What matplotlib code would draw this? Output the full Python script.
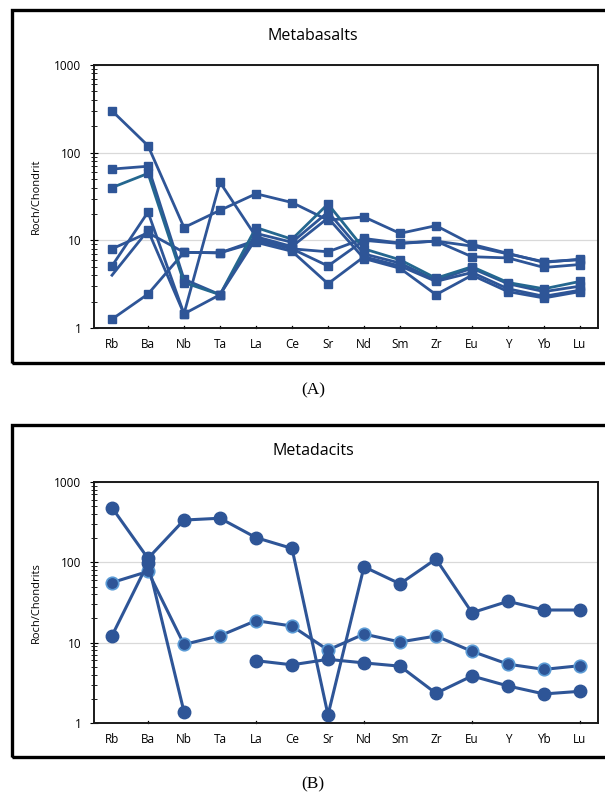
import numpy as np
import matplotlib
matplotlib.use("Agg")
import matplotlib.pyplot as plt
from matplotlib.patches import Rectangle
from matplotlib.ticker import LogLocator, NullFormatter, FixedLocator

# ─── DATA ─────────────────────────────────────────────────────────────────────
ELEMENTS = ["Rb", "Ba", "Nb", "Ta", "La", "Ce", "Sr", "Nd", "Sm", "Zr", "Eu", "Y", "Yb", "Lu"]

# Metabasalts (A)
basalt_1 = [300, 120, 14, 22, 34, 27, 17, 18.5, 12, 14.7, 9.0, 7.1, 5.6, 6.1]
basalt_2 = [65, 70, 3.6, 2.4, 12, 9.5, 21, 7.0, 5.5, 3.5, 4.8, 3.2, 2.6, 3.0]
basalt_3 = [40, 58, 3.3, 2.4, 14, 10.3, 26, 8.0, 6.0, 3.7, 5.0, 3.3, 2.8, 3.4]
basalt_4 = [8.0, 12.2, 7.3, 7.2, 10, 8.0, 7.4, 10.5, 9.3, 9.8, 8.6, 7.0, 5.7, 6.0]
basalt_5 = [5.1, 21, 1.45, 46, 11, 8.5, 18, 6.2, 4.8, 2.4, 4.0, 2.6, 2.2, 2.6]
basalt_6 = [4.0, 13, 1.45, 2.4, 10.5, 8.0, 5.1, 10, 9.2, 9.8, 6.5, 6.3, 4.9, 5.3]
basalt_7 = [1.26, 2.44, 7.3, 7.2, 9.5, 7.5, 3.2, 6.5, 5.1, 3.4, 4.3, 2.8, 2.3, 2.7]

# Metadacits (B)
dacit_1 = [479, 112, 336, 354, 203, 149, 1.26, 88, 54, 110, 23.6, 32.7, 25.5, 25.5]
dacit_2 = [56, 77, 9.5, 12.2, 18.8, 16.1, 8.1, 12.8, 10.2, 12.1, 7.8, 5.4, 4.65, 5.17]
dacit_3 = [12.2, 98, 1.38, np.nan, 5.97, 5.3, 6.2, 5.6, 5.1, 2.34, 3.85, 2.89, 2.3, 2.48]

BLUE = "#2E5597"
TEAL = "#24678F"
LIGHT_EDGE = "#5B9BD5"

W, H = 605, 797
fig = plt.figure(figsize=(W / 100, H / 100), dpi=100)
plt.rcParams["font.family"] = ["Open Sans", "DejaVu Sans"]


def fig_box(x0, y0, x1, y1):
    # pixel box (top-left origin) -> figure fraction [l, b, w, h]
    return [x0 / W, 1 - y1 / H, (x1 - x0) / W, (y1 - y0) / H]


def style_axes(ax, tick_every):
    x = np.arange(len(ELEMENTS))
    ax.set_yscale("log")
    ax.set_ylim(1, 1000)
    ax.set_xlim(-0.5, len(ELEMENTS) - 0.5)
    ax.set_xticks(x)
    ax.set_xticklabels(ELEMENTS, fontsize=8.5)
    ax.tick_params(axis="x", length=0, pad=7)
    for i in range(1, len(ELEMENTS), tick_every):
        ax.plot([i, i], [1, 1.06], color="black", lw=0.9, clip_on=False, zorder=1)
    ax.yaxis.set_major_locator(FixedLocator([1, 10, 100, 1000]))
    ax.set_yticklabels(["1", "10", "100", "1000"], fontsize=8.5)
    ax.yaxis.set_minor_locator(LogLocator(base=10, subs=np.arange(2, 10)))
    ax.yaxis.set_minor_formatter(NullFormatter())
    ax.tick_params(axis="y", which="major", direction="inout", length=6, width=0.8, pad=6)
    ax.tick_params(axis="y", which="minor", direction="inout", length=4, width=0.6)
    ax.grid(True, axis="y", which="major", color="#d9d9d9", lw=0.9)
    ax.set_axisbelow(True)
    for sp in ax.spines.values():
        sp.set_linewidth(1.4)
        sp.set_color("#1a1a1a")


# outer frames (right edge runs off the image)
for (y0, y1) in [(10, 363), (425, 757)]:
    fig.patches.append(Rectangle((12 / W, 1 - y1 / H), 600 / W, (y1 - y0) / H,
                                 transform=fig.transFigure, fill=False,
                                 ec="black", lw=2.4, clip_on=False))

# ─── (A) METABASALTS ─────────────────────────────────────────────────────────
ax1 = fig.add_axes(fig_box(94, 65, 598, 328))
style_axes(ax1, 1)
x = np.arange(len(ELEMENTS))
for vals, col in [(basalt_1, BLUE), (basalt_2, BLUE), (basalt_4, BLUE),
                  (basalt_5, BLUE), (basalt_7, BLUE), (basalt_3, TEAL)]:
    ax1.plot(x, vals, color=col, lw=2.0, marker="s", ms=6.4, mfc=BLUE, mec=BLUE)
# one series drawn without its first marker
ax1.plot(x, basalt_6, color=BLUE, lw=2.0, marker="s", ms=6.4,
         markevery=list(range(1, len(ELEMENTS))))
ax1.set_ylabel("Roch/Chondrit", fontsize=8, labelpad=9)
fig.text(313 / W, 1 - 36 / H, "Metabasalts", ha="center", va="center", fontsize=11.5)

# ─── (B) METADACITS ──────────────────────────────────────────────────────────
ax2 = fig.add_axes(fig_box(94, 482, 598, 723))
style_axes(ax2, 3)
ax2.plot(x, dacit_1, color=BLUE, lw=2.2, marker="o", ms=9, mfc=BLUE, mec=BLUE)
ax2.plot(x, dacit_2, color=BLUE, lw=2.2, marker="o", ms=9, mfc=BLUE, mec=LIGHT_EDGE, mew=1.2)
ax2.plot(x, dacit_3, color=BLUE, lw=2.2, marker="o", ms=9, mfc=BLUE, mec=BLUE)
ax2.set_ylabel("Roch/Chondrits", fontsize=8, labelpad=9)
fig.text(313 / W, 1 - 451 / H, "Metadacits", ha="center", va="center", fontsize=11.5)

# panel letters
fig.text(313 / W, 1 - 390 / H, "(A)", ha="center", va="center", fontsize=12.5,
         family=["Liberation Serif", "DejaVu Serif"])
fig.text(313 / W, 1 - 784 / H, "(B)", ha="center", va="center", fontsize=12.5,
         family=["Liberation Serif", "DejaVu Serif"])

fig.savefig("out.png", dpi=100)
